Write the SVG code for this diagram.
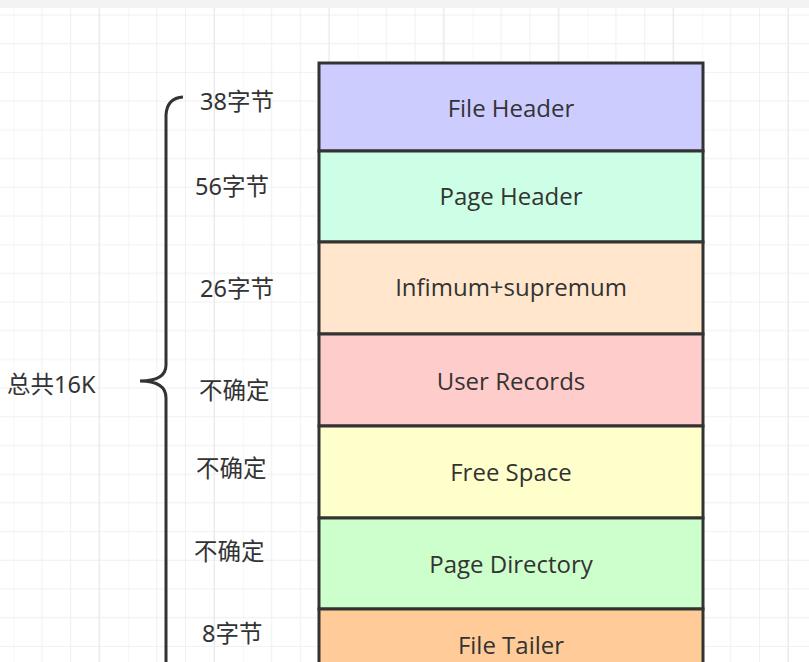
<svg xmlns="http://www.w3.org/2000/svg" width="809" height="662" viewBox="0 0 809 662">
<defs>
<pattern id="g" x="13.3" y="15" width="114.8" height="114.8" patternUnits="userSpaceOnUse">
<path d="M0 0V114.8M28.7 0V114.8M57.4 0V114.8M86.1 0V114.8M0 0H114.8M0 28.7H114.8M0 57.4H114.8M0 86.1H114.8" stroke="#f0f0f0" stroke-width="1" fill="none"/>
<path d="M86.1 0V114.8M0 115H114.8M0 114.8" stroke="#e6e6e6" stroke-width="1" fill="none"/>
</pattern>
<style>
.b{stroke:#333;stroke-width:3}
.t{font-family:"Open Sans","Noto Sans CJK SC",sans-serif;font-size:24px;fill:#333;text-anchor:middle}
.l{font-family:"Noto Sans","Noto Sans CJK SC",sans-serif;font-size:23.5px;fill:#333}
</style>
</defs>
<rect width="809" height="662" fill="#fff"/>
<rect width="809" height="662" fill="url(#g)"/>
<rect width="809" height="8" fill="#f3f3f3"/>
<g id="connectors">
<path d="M183 97Q167 98 166 115V365Q166 381 140 381Q166 381 166 398V662" fill="none" stroke="#333" stroke-width="3"/>
</g>
<g id="n1"><rect class="b" x="319" y="63" width="384" height="88" fill="#ccccff"/><text class="t" x="511" y="117">File Header</text></g>
<g id="n2"><rect class="b" x="319" y="151" width="384" height="91" fill="#ccffe6"/><text class="t" x="511" y="205">Page Header</text></g>
<g id="n3"><rect class="b" x="319" y="242" width="384" height="92" fill="#ffe6cc"/><text class="t" x="511" y="296">Infimum+supremum</text></g>
<g id="n4"><rect class="b" x="319" y="334" width="384" height="92" fill="#ffcccc"/><text class="t" x="511" y="390">User Records</text></g>
<g id="n5"><rect class="b" x="319" y="426" width="384" height="92" fill="#ffffcc"/><text class="t" x="511" y="481">Free Space</text></g>
<g id="n6"><rect class="b" x="319" y="518" width="384" height="91" fill="#ccffcc"/><text class="t" x="511" y="573">Page Directory</text></g>
<g id="n7"><rect class="b" x="319" y="609" width="384" height="60" fill="#ffcc99"/><text class="t" x="511" y="654">File Tailer</text></g>
<g id="labels">
<text class="l" x="200" y="110">38字节</text>
<text class="l" x="195" y="195">56字节</text>
<text class="l" x="200" y="297">26字节</text>
<text class="l" x="199" y="399">不确定</text>
<text class="l" x="196" y="477">不确定</text>
<text class="l" x="194" y="560">不确定</text>
<text class="l" x="202" y="642">8字节</text>
<text class="l" x="7" y="393">总共16K</text>
</g>
</svg>
